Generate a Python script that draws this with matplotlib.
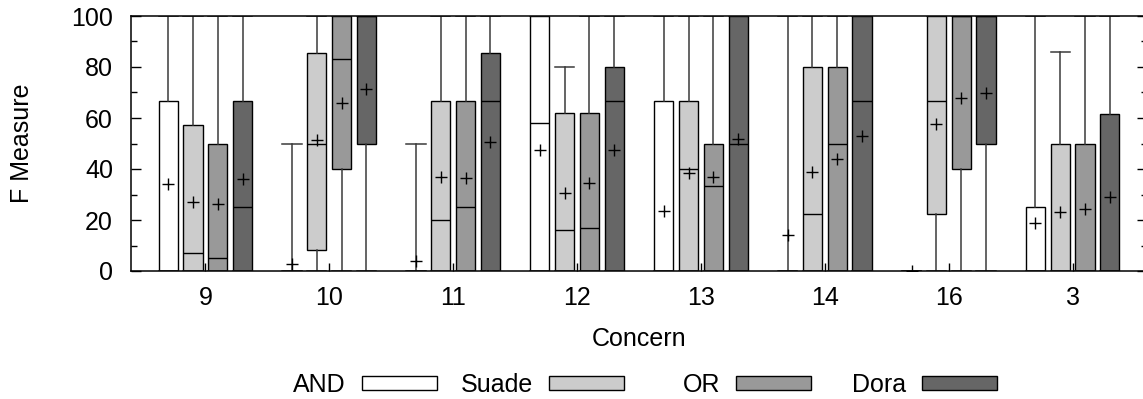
import matplotlib
matplotlib.use('Agg')
import matplotlib.pyplot as plt
from matplotlib.patches import Patch
from matplotlib.ticker import MultipleLocator
import numpy as np

plt.rcParams['font.family'] = ['Liberation Sans', 'DejaVu Sans']

# ---------------- data ----------------
concerns = ['9', '10', '11', '12', '13', '14', '16', '3']
methods = ['AND', 'Suade', 'OR', 'Dora']
colors = ['#ffffff', '#cccccc', '#999999', '#666666']

and_q1 = [0, 0, 0, 0, 0, 0, 0, 0]
and_med = [0, 0, 0, 58.2, 0, 0, 0, 0]
and_q3 = [66.7, 0, 0, 100, 66.7, 0, 0, 25]
and_lo = [0, 0, 0, 0, 0, 0, 0, 0]
and_hi = [100, 50, 50, 100, 100, 100, 0, 100]
and_mean = [34.2, 2.6, 3.9, 47.5, 23.7, 14.0, 0.0, 18.7]

suade_q1 = [0, 8.1, 0, 0, 0, 0, 22.2, 0]
suade_med = [6.9, 50, 20, 15.9, 40, 22.2, 66.7, 0]
suade_q3 = [57.1, 85.6, 66.7, 61.8, 66.7, 80, 100, 50]
suade_lo = [0, 0, 0, 0, 0, 0, 0, 0]
suade_hi = [100, 100, 100, 80, 100, 100, 100, 85.7]
suade_mean = [26.9, 51.4, 37.0, 30.7, 38.3, 38.7, 57.6, 23.1]

or_q1 = [0, 40, 0, 0, 0, 0, 40, 0]
or_med = [5.1, 83.1, 25, 17, 33.2, 50, 100, 0]
or_q3 = [50, 100, 66.7, 61.8, 50, 80, 100, 50]
or_lo = [0, 0, 0, 0, 0, 0, 0, 0]
or_hi = [100, 100, 100, 100, 100, 100, 100, 100]
or_mean = [26.3, 66.0, 36.3, 34.4, 36.7, 43.8, 67.8, 24.2]

dora_q1 = [0, 50, 0, 0, 0, 0, 50, 0]
dora_med = [25, 100, 66.7, 66.7, 50, 66.7, 100, 0]
dora_q3 = [66.7, 100, 85.6, 80, 100, 100, 100, 61.4]
dora_lo = [0, 0, 0, 0, 0, 0, 0, 0]
dora_hi = [100, 100, 100, 100, 100, 100, 100, 100]
dora_mean = [35.9, 71.2, 50.7, 47.5, 51.8, 53.1, 69.9, 29.2]

series = [
    (and_q1, and_med, and_q3, and_lo, and_hi, and_mean),
    (suade_q1, suade_med, suade_q3, suade_lo, suade_hi, suade_mean),
    (or_q1, or_med, or_q3, or_lo, or_hi, or_mean),
    (dora_q1, dora_med, dora_q3, dora_lo, dora_hi, dora_mean),
]

# ---------------- figure ----------------
W, H = 1143, 399
fig = plt.figure(figsize=(W / 100, H / 100), dpi=100)
ax = fig.add_axes([131 / W, 128 / H, 1016 / W, 255 / H])

FS = 18
offsets = [-0.3, -0.1, 0.1, 0.3]
bw = 0.155
x = np.arange(len(concerns))

for (q1, med, q3, lo, hi, mean), off, col in zip(series, offsets, colors):
    stats = []
    for i in range(len(concerns)):
        stats.append(dict(q1=q1[i], med=med[i], q3=q3[i], whislo=lo[i],
                          whishi=hi[i], mean=mean[i], fliers=[]))
    ax.bxp(stats, positions=x + off, widths=bw, capwidths=bw,
           patch_artist=True, showmeans=True, meanline=False,
           showfliers=False, manage_ticks=False,
           boxprops=dict(facecolor=col, edgecolor='black', linewidth=1.0),
           whiskerprops=dict(color='#3a3a3a', linewidth=1.1),
           capprops=dict(color='#3a3a3a', linewidth=1.1),
           medianprops=dict(color='black', linewidth=1.0),
           meanprops=dict(marker='+', markeredgecolor='black',
                          markerfacecolor='black', markersize=9,
                          markeredgewidth=1.0))

ax.set_xlim(-0.6, 7.6)
ax.set_ylim(0, 100)
ax.set_xticks(x)
ax.set_xticklabels(concerns, fontsize=FS)
ax.set_yticks(range(0, 101, 20))
ax.set_yticklabels([str(v) for v in range(0, 101, 20)], fontsize=FS)
ax.yaxis.set_minor_locator(MultipleLocator(10))
ax.tick_params(axis='x', which='major', direction='in', length=6, width=1,
               top=False, bottom=True, pad=11)
ax.tick_params(axis='x', which='minor', bottom=False, top=False)
ax.tick_params(axis='y', which='major', direction='in', length=7, width=1,
               left=True, right=True, pad=13)
ax.tick_params(axis='y', which='minor', direction='in', length=4, width=1,
               left=True, right=True)
for s in ax.spines.values():
    s.set_linewidth(1.1)
    s.set_color('black')

ax.set_xlabel('Concern', fontsize=FS, labelpad=12)
ax.set_ylabel('F Measure', fontsize=FS, labelpad=27)

# legend: right-justified labels followed by swatches
right_edges = [437, 624, 811, 997]
for name, col, xr in zip(methods, colors, right_edges):
    fig.legend(handles=[Patch(facecolor=col, edgecolor='black', linewidth=1.0)],
               labels=[name], loc='center right',
               bbox_to_anchor=(xr / W, (H - 385) / H),
               bbox_transform=fig.transFigure, frameon=False,
               markerfirst=False, borderpad=0, borderaxespad=0,
               handlelength=75 / 25, handleheight=13 / 25,
               handletextpad=16 / 25, fontsize=FS)

fig.savefig('out.png', dpi=100)
